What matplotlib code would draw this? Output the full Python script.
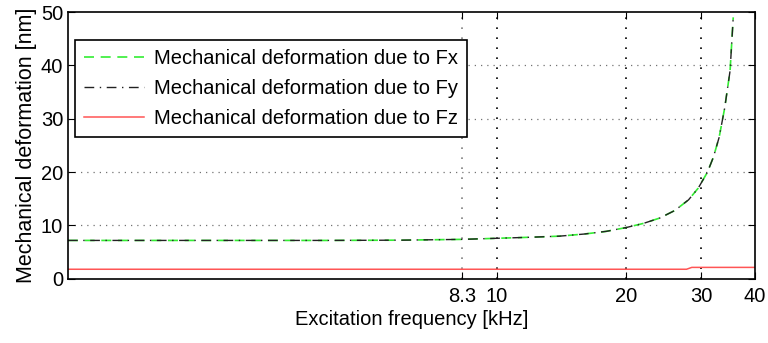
import numpy as np
import matplotlib
matplotlib.use('Agg')
import matplotlib.pyplot as plt
from matplotlib.ticker import FixedLocator, FixedFormatter, NullLocator

# data (frequency in kHz, deformation in nm)
freq_xy = [1, 2, 4, 6, 8.3, 10, 12, 14, 16, 18, 20, 22, 24, 26, 28, 29.5, 31, 32, 33, 34, 35, 35.6]
defo_x = [7.2, 7.2, 7.2, 7.25, 7.4, 7.6, 7.8, 8.0, 8.4, 8.9, 9.6, 10.4, 11.4, 12.8, 14.8, 17.0, 20.0, 22.8, 26.5, 32.0, 39.0, 49.0]
defo_y = defo_x
freq_z = [1, 27.7, 28.5, 40]
defo_z = [1.8, 1.8, 2.15, 2.15]

xticks = [8.3, 10, 20, 30, 40]
xtick_labels = ['8.3', '10', '20', '30', '40']
yticks = [0, 10, 20, 30, 40, 50]

plt.rcParams['font.family'] = ['Liberation Sans', 'DejaVu Sans']
fs = 14.5

fig = plt.figure(figsize=(7.68, 3.43), dpi=100)
ax = fig.add_axes([0.0885, 0.187, 0.8945, 0.778])

ax.plot(freq_xy, defo_x, color='#33ee33', linestyle=(0, (6, 4)), lw=1.2,
        label='Mechanical deformation due to Fx')
ax.plot(freq_xy, defo_y, color='#222222', linestyle=(0, (7, 4, 1, 4)), lw=1.0,
        label='Mechanical deformation due to Fy')
ax.plot(freq_z, defo_z, color='#ff5555', lw=1.1,
        label='Mechanical deformation due to Fz')

ax.set_xscale('log')
ax.set_xlim(1, 40)
ax.set_ylim(0, 50)
ax.xaxis.set_major_locator(FixedLocator(xticks))
ax.xaxis.set_major_formatter(FixedFormatter(xtick_labels))
ax.xaxis.set_minor_locator(NullLocator())
ax.set_yticks(yticks)

ax.tick_params(direction='in', top=True, right=True, labelsize=fs, length=5, width=0.8)
ax.tick_params(axis='x', pad=6)
ax.grid(True, axis='x', color='k', linestyle=(0, (1, 5)), lw=1.2)
ax.grid(True, axis='y', color='0.45', linestyle=(0, (1, 4)), lw=0.9)
ax.xaxis.get_gridlines()[0].set_color('0.5')
ax.xaxis.get_gridlines()[-1].set_visible(False)
ax.yaxis.get_gridlines()[0].set_visible(False)
ax.yaxis.get_gridlines()[-1].set_visible(False)

for s in ax.spines.values():
    s.set_linewidth(1.2)

ax.set_xlabel('Excitation frequency [kHz]', fontsize=fs, labelpad=3)
ax.set_ylabel('Mechanical deformation [nm]', fontsize=15.5, labelpad=3)

leg = ax.legend(loc='upper left', bbox_to_anchor=(0.01, 0.895), fontsize=fs,
                fancybox=False, framealpha=1, edgecolor='k', handlelength=3.0,
                borderaxespad=0, labelspacing=0.55, handletextpad=0.5,
                borderpad=0.45)
leg.get_frame().set_linewidth(1.2)

fig.savefig('out.png', dpi=100)
